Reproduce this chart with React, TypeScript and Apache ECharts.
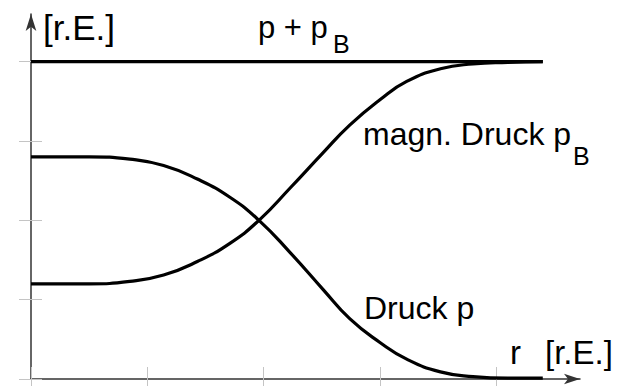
import React, { useEffect, useRef } from "react";
import * as echarts from "echarts";

// radius positions (r.E.) and pressures (r.E.)
const R = [0, 0.5, 0.85, 1.14, 1.43, 1.71, 1.96, 2.23, 2.51, 2.74, 3.0, 3.23, 3.52, 3.8, 4.1, 4.4];
const P = [2.8, 2.8, 2.77, 2.69, 2.52, 2.29, 2.0, 1.59, 1.13, 0.76, 0.46, 0.25, 0.09, 0.03, 0.01, 0.01];
const PB = [1.2, 1.2, 1.23, 1.31, 1.48, 1.71, 2.0, 2.41, 2.85, 3.2, 3.52, 3.75, 3.91, 3.97, 3.99, 4.0];
const TOTAL_R = [0, 4.4];
const TOTAL_V = [4, 4];
const X_TICKS = [0, 1, 2, 3, 4];
const Y_TICKS = [0, 1, 2, 3, 4];

const FONT = '"Liberation Sans", Arial, sans-serif';

export default function App() {
  const ref = useRef<HTMLDivElement>(null);
  useEffect(() => {
    const chart = echarts.init(ref.current!, undefined, { renderer: "svg" });
    const axisColor = "#333";
    const tickStyle = { color: "#c4c4c4", width: 1 };
    const curve = { color: "#000", width: 3.2 };
    const baseX = {
      type: "value",
      min: 0,
      max: 4.72,
      position: "bottom",
      axisLabel: { show: false },
      splitLine: { show: false },
    };
    const baseY = {
      type: "value",
      min: 0,
      max: 4.6,
      position: "left",
      axisLabel: { show: false },
      splitLine: { show: false },
    };
    const txt = (text: string, x: number, y: number, size: number) => ({
      type: "text",
      x,
      y,
      silent: true,
      style: {
        text,
        fontSize: size,
        fontFamily: FONT,
        fill: "#000",
        align: "left",
        verticalAlign: "middle",
      },
    });
    chart.setOption({
      animation: false,
      backgroundColor: "#fff",
      grid: { left: 31, top: 14, width: 549, height: 365, containLabel: false },
      xAxis: [
        {
          ...baseX,
          axisLine: {
            show: true,
            onZero: false,
            symbol: ["none", "arrow"],
            symbolSize: [8, 16],
            lineStyle: { color: axisColor, width: 1.5 },
          },
          axisTick: { show: true, inside: true, length: 12, customValues: X_TICKS, lineStyle: tickStyle },
        },
        {
          ...baseX,
          axisLine: { show: false, onZero: false },
          axisTick: { show: true, inside: false, length: 7, customValues: X_TICKS, lineStyle: tickStyle },
        },
      ],
      yAxis: [
        {
          ...baseY,
          axisLine: {
            show: true,
            onZero: false,
            symbol: ["none", "arrow"],
            symbolSize: [8, 17],
            lineStyle: { color: axisColor, width: 1.5 },
          },
          axisTick: { show: true, inside: true, length: 11, customValues: Y_TICKS, lineStyle: tickStyle },
        },
        {
          ...baseY,
          axisLine: { show: false, onZero: false },
          axisTick: { show: true, inside: false, length: 12, customValues: Y_TICKS, lineStyle: tickStyle },
        },
      ],
      series: [
        {
          name: "p + pB",
          type: "line",
          data: TOTAL_R.map((r, i) => [r, TOTAL_V[i]]),
          symbol: "none",
          lineStyle: curve,
          xAxisIndex: 0,
          yAxisIndex: 0,
        },
        {
          name: "Druck p",
          type: "line",
          data: R.map((r, i) => [r, P[i]]),
          smooth: 0.5,
          symbol: "none",
          lineStyle: curve,
          xAxisIndex: 0,
          yAxisIndex: 0,
        },
        {
          name: "magn. Druck pB",
          type: "line",
          data: R.map((r, i) => [r, PB[i]]),
          smooth: 0.5,
          symbol: "none",
          lineStyle: curve,
          xAxisIndex: 0,
          yAxisIndex: 0,
        },
      ],
      graphic: [
        txt("[r.E.]", 43, 27, 35),
        txt("p + p", 258, 27, 31),
        txt("B", 333, 44, 25),
        txt("magn. Druck p", 363, 134, 32),
        txt("B", 573, 156, 25),
        txt("Druck p", 364, 308, 32),
        txt("r", 510, 352, 33),
        txt("[r.E.]", 545, 352, 33),
      ],
    });
    return () => chart.dispose();
  }, []);
  return (
    <div
      ref={ref}
      style={{ position: "fixed", left: 0, top: 0, width: 630, height: 386, background: "#fff" }}
    />
  );
}
